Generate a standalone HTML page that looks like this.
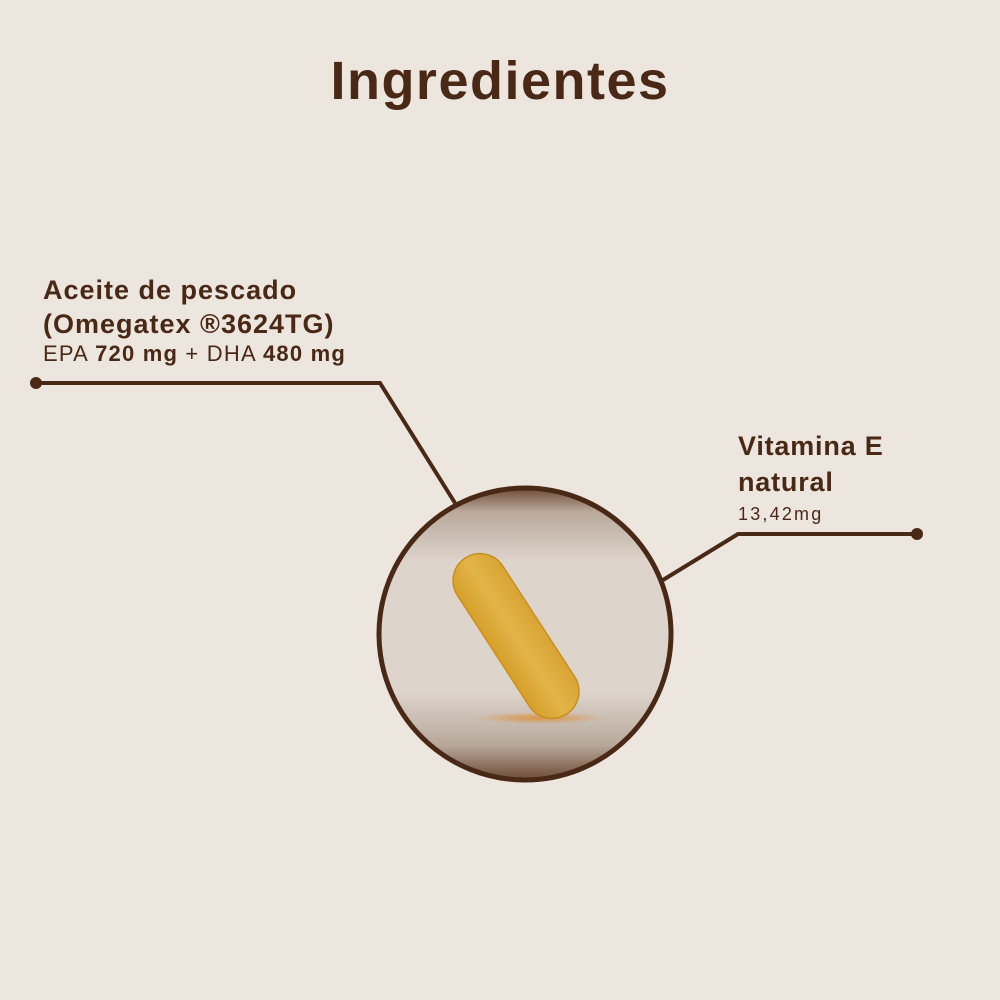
<!DOCTYPE html>
<html><head><meta charset="utf-8"><style>
body{margin:0;width:1000px;height:1000px;background:#ede6df;position:relative;overflow:hidden;font-family:"Liberation Sans",sans-serif;color:#4a2816}
.t{position:absolute;white-space:nowrap}
</style></head><body>
<div class="t" style="left:0;width:1000px;text-align:center;top:50px;font-size:54px;font-weight:bold;letter-spacing:1.5px">Ingredientes</div>
<div class="t" style="left:43px;top:273px;font-size:27px;font-weight:bold;line-height:34px;letter-spacing:1px">Aceite de pescado<br>(Omegatex ®3624TG)</div>
<div class="t" style="left:43px;top:341px;font-size:22px;letter-spacing:1.2px">EPA <b>720 mg</b> + DHA <b>480 mg</b></div>
<div class="t" style="left:738px;top:428px;font-size:27px;font-weight:bold;line-height:36px;letter-spacing:0.8px">Vitamina E<br>natural</div>
<div class="t" style="left:738px;top:504px;font-size:18px;letter-spacing:2.2px">13,42mg</div>
<svg width="1000" height="1000" style="position:absolute;left:0;top:0">
<defs>
<linearGradient id="bg" x1="0" y1="0" x2="0" y2="1">
<stop offset="0" stop-color="#6e4a36"/><stop offset="0.08" stop-color="#b9a89b"/><stop offset="0.25" stop-color="#ddd4cb"/><stop offset="0.7" stop-color="#ddd4cb"/><stop offset="0.88" stop-color="#b8a89b"/><stop offset="1" stop-color="#6e4a36"/>
</linearGradient>
<linearGradient id="pg" x1="0" x2="1">
<stop offset="0" stop-color="#d6a02a"/><stop offset="0.5" stop-color="#e2b449"/><stop offset="1" stop-color="#d8a534"/>
</linearGradient>
<radialGradient id="sh"><stop offset="0" stop-color="#e08a2a" stop-opacity="0.8"/><stop offset="1" stop-color="#e08a2a" stop-opacity="0"/></radialGradient>
</defs>
<g stroke="#4a2816" stroke-width="4" fill="none">
<polyline points="36,383 380,383 455,503"/>
<polyline points="917,534 738,534 663,580"/>
</g>
<circle cx="36" cy="383" r="6" fill="#4a2816"/>
<circle cx="917" cy="534" r="6" fill="#4a2816"/>
<circle cx="525" cy="634" r="146" fill="url(#bg)" stroke="#4a2816" stroke-width="5"/>
<ellipse cx="540" cy="718" rx="65" ry="6" fill="url(#sh)"/>
<rect x="-27" y="-93" width="54" height="186" rx="27" fill="url(#pg)" stroke="#c98f1e" stroke-width="1.5" transform="translate(516,636) rotate(-33)"/>
</svg>
</body></html>
